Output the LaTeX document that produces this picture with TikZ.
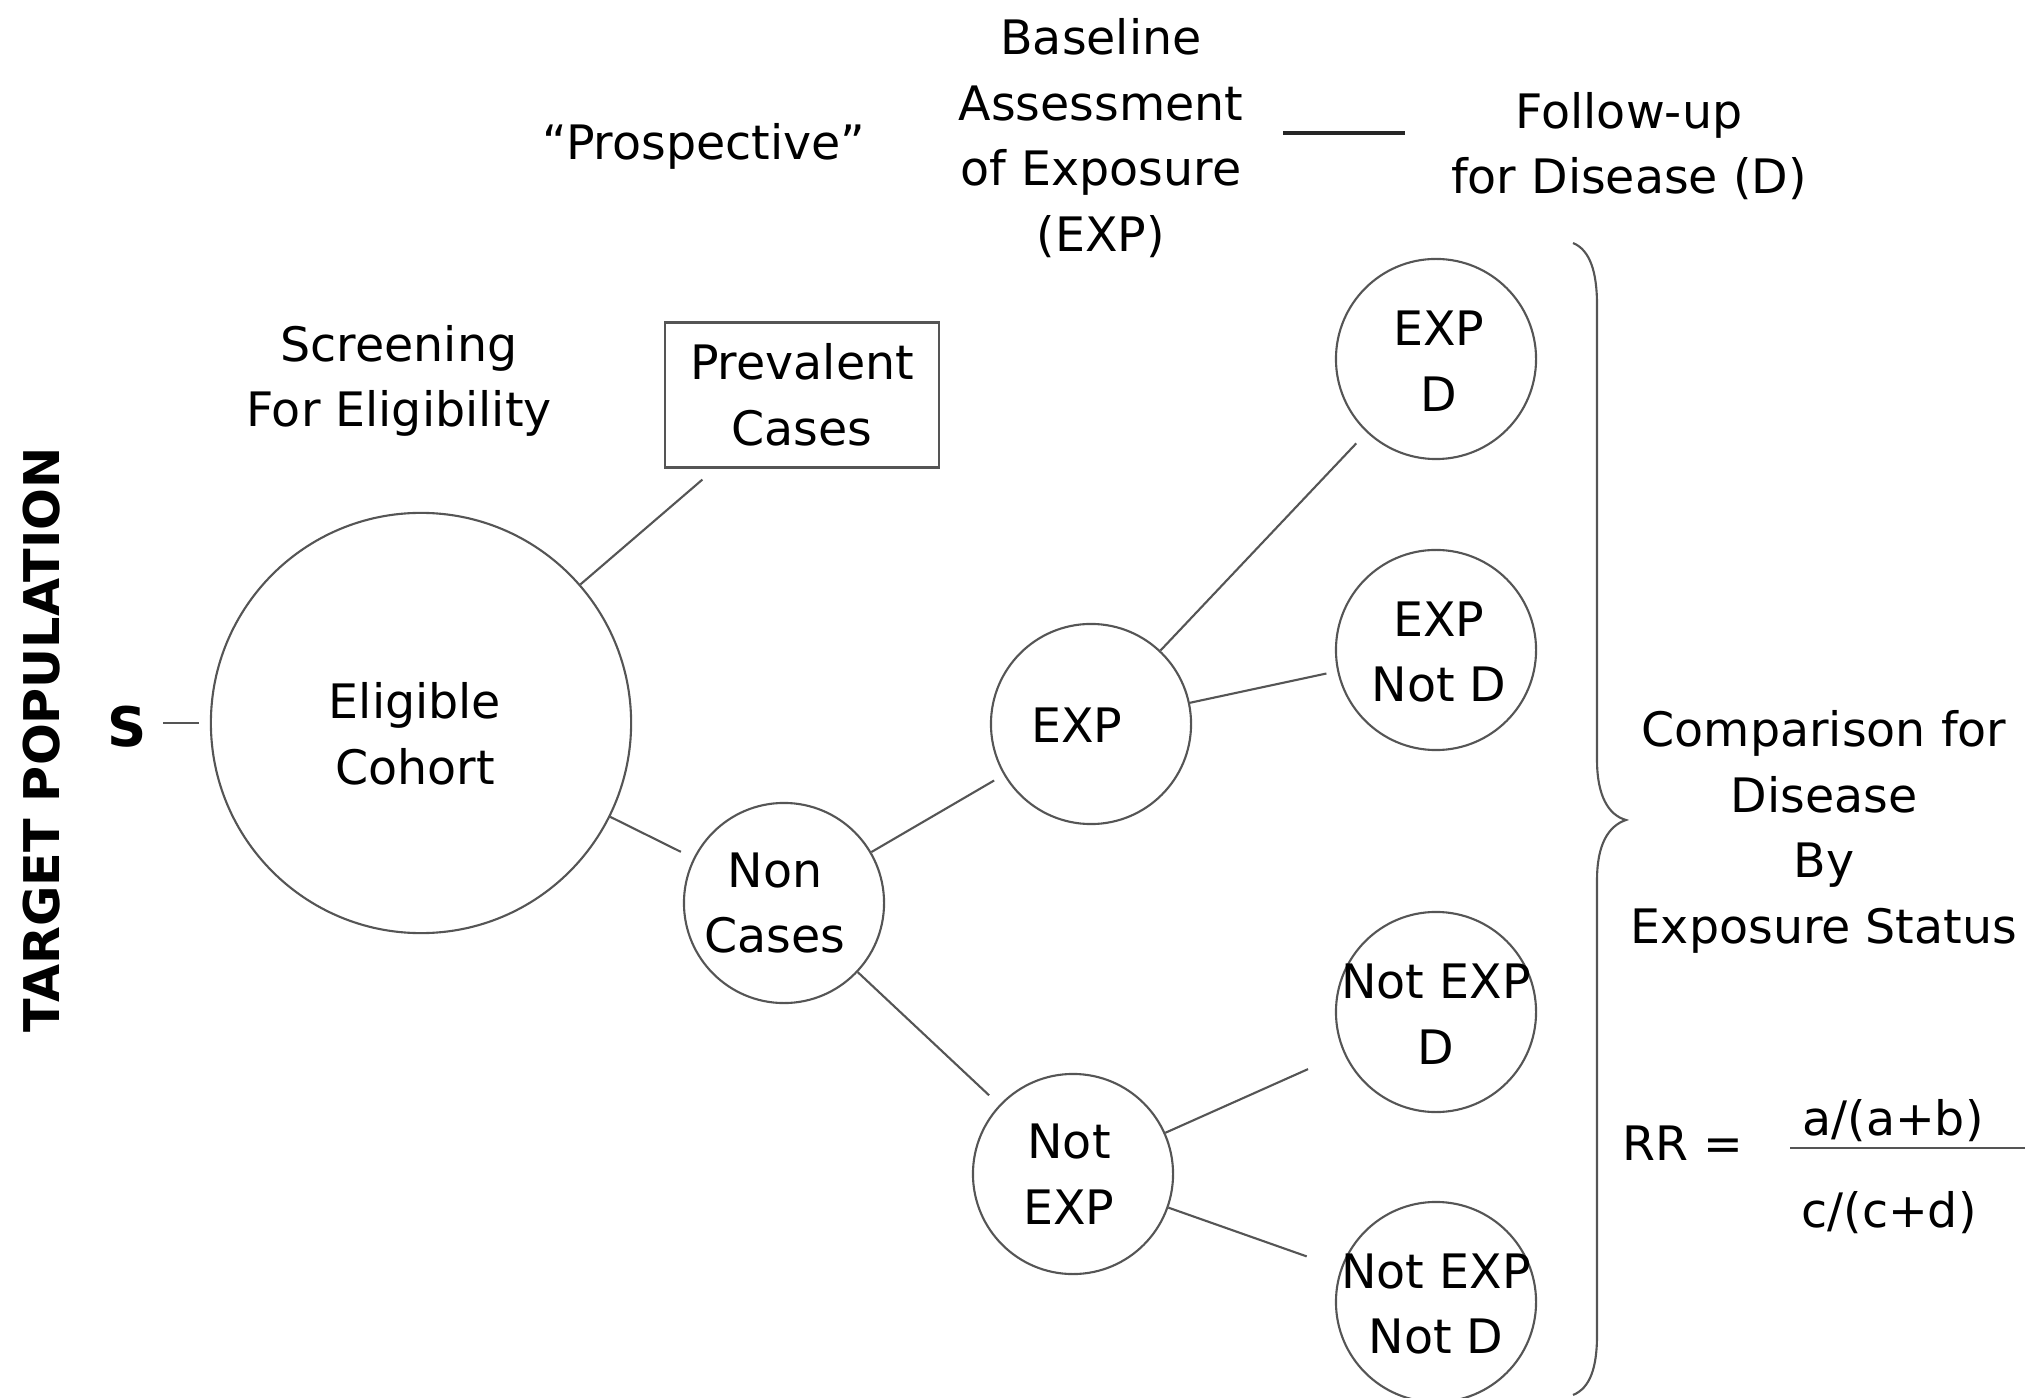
\documentclass[tikz,border=0pt]{standalone}
\usepackage{fontspec}
\setmainfont{DejaVu Sans}
\usetikzlibrary{calc}
\definecolor{linegray}{HTML}{555555}
\tikzset{
  ring/.style={circle, draw=linegray, line width=0.6pt, inner sep=0pt, minimum size=#1},
  lbl/.style={align=center, inner sep=0pt, font=\fontsize{13.5}{18.6}\selectfont},
  link/.style={draw=linegray, line width=0.6pt},
}
\begin{document}
\begin{tikzpicture}[x=0.01cm, y=-0.01cm]
\useasboundingbox (0,0) rectangle (2031,1398);

% side title and source population
\node[rotate=90, inner sep=0pt, font=\bfseries\fontsize{14}{17}\selectfont] (target) at (42,740) {TARGET POPULATION};
\node[inner sep=0pt, font=\bfseries\fontsize{15.5}{18}\selectfont] (s) at (127,727) {S};

% cohort tree
\node[ring=4.2cm] (elig) at (421,723) {};
\node[lbl] (eligt) at (415,734) {Eligible\\Cohort};
\node[draw=linegray, line width=0.6pt, minimum width=2.73cm, minimum height=1.45cm, lbl] (prev) at (802,395) {Prevalent\\Cases};
\node[ring=2cm] (nonc) at (784,903) {};
\node[lbl] (nonct) at (775,903) {Non\\Cases};
\node[ring=2cm] (exp) at (1091,724) {};
\node[lbl] (expt) at (1077,725) {EXP};
\node[ring=2cm] (nexp) at (1073,1174) {};
\node[lbl] (nexpt) at (1069,1174) {Not\\EXP};
\node[ring=2cm] (ed) at (1436,359) {};
\node[lbl] (edt) at (1439,361) {EXP\\D};
\node[ring=2cm] (enotd) at (1436,650) {};
\node[lbl] (enotdt) at (1439,652) {EXP\\Not D};
\node[ring=2cm] (ned) at (1436,1012) {};
\node[lbl] (nedt) at (1436,1014) {Not EXP\\D};
\node[ring=2cm] (nend) at (1436,1302) {};
\node[lbl] (nendt) at (1436,1304) {Not EXP\\Not D};

% headings
\node[lbl] (screen) at (399,381) {Screening\\For Eligibility};
\node[lbl] (prosp) at (704,146) {“Prospective”};
\node[lbl] (base) at (1101,138) {Baseline\\Assessment\\of Exposure\\(EXP)};
\node[lbl] (follow) at (1629,146) {Follow-up\\for Disease (D)};
\coordinate (h1) at (1283,133);
\coordinate (h2) at (1405,133);
\draw[line width=1.3pt, draw=black!85] (h1) -- (h2);

% connectors
\draw[link, shorten <=0.16cm, shorten >=0.11cm] (s.east |- elig.west) -- (elig.west);
\draw[link] (elig.41) -- ($(prev.south west)+(38,11)$);
\draw[link, shorten >=0.14cm] (elig) -- (nonc);
\draw[link, shorten >=0.11cm] (nonc) -- (exp);
\draw[link, shorten >=0.14cm] (nonc) -- (nexp);
\draw[link, shorten >=0.15cm] (exp) -- (ed);
\draw[link, shorten >=0.11cm] (exp) -- (enotd);
\draw[link, shorten >=0.39cm] (nexp) -- (ned);
\draw[link, shorten >=0.36cm] (nexp) -- (nend);

% brace gathering the four outcome groups
\draw[link] (1573,243) .. controls (1590,250) and (1597,272) .. (1597,305)
  -- (1597,760) .. controls (1597,795) and (1608,815) .. (1626,820)
  .. controls (1608,826) and (1597,845) .. (1597,880)
  -- (1597,1335) .. controls (1597,1368) and (1590,1388) .. (1573,1395);

% comparison and risk ratio
\node[lbl] (comp) at (1824,832) {Comparison for\\Disease\\By\\Exposure Status};
\node[lbl, anchor=base west] (rr) at (1622,1160) {RR =};
\node[lbl, anchor=base] (num) at (1893,1135) {a/(a+b)};
\node[lbl, anchor=base] (den) at (1889,1227) {c/(c+d)};
\coordinate (f1) at (1790,1148);
\coordinate (f2) at (2025,1148);
\draw[link] (f1) -- (f2);
\end{tikzpicture}
\end{document}
